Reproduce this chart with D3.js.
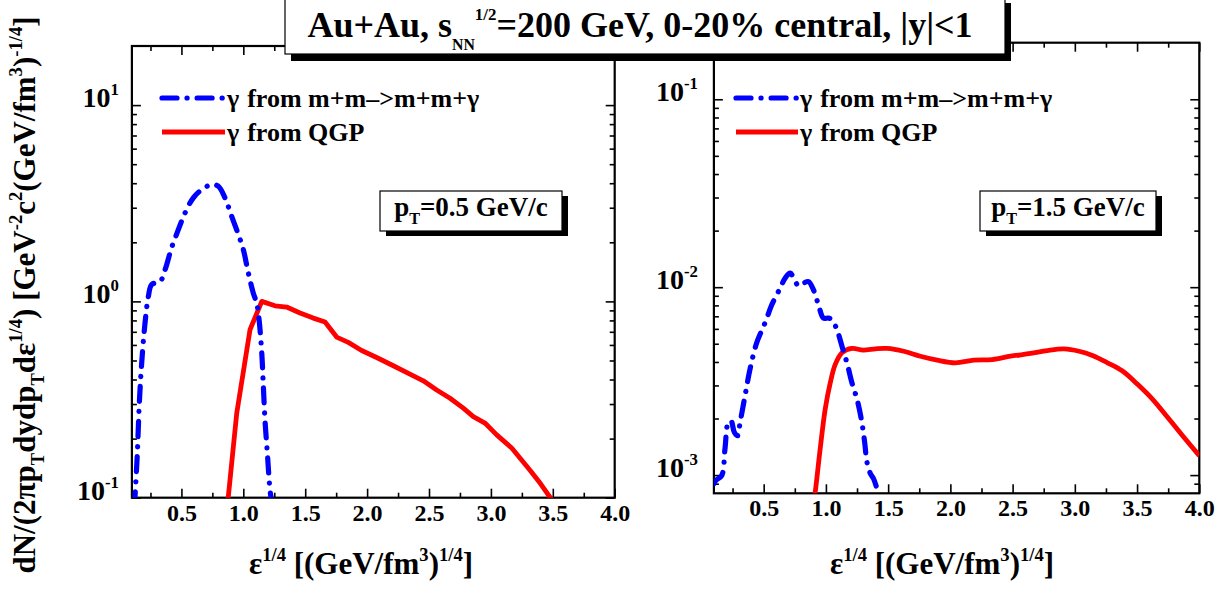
<!DOCTYPE html>
<html>
<head>
<meta charset="utf-8">
<script src="https://cdn.jsdelivr.net/npm/d3@7/dist/d3.min.js"></script>
<style>
  html, body { margin: 0; padding: 0; background: #fff; }
  svg { display: block; }
  text, tspan { font-family: "Liberation Serif", "Times New Roman", serif; font-weight: bold; fill: #000; }
</style>
</head>
<body>
<svg id="chart" width="1232" height="592"></svg>
<script>
// ---- data -------------------------------------------------------------
// x: epsilon^(1/4) in (GeV/fm^3)^(1/4)
const epsMajorTicks = [0.5, 1.0, 1.5, 2.0, 2.5, 3.0, 3.5, 4.0];
const epsMinorTicks = [0.25, 0.75, 1.25, 1.75, 2.25, 2.75, 3.25, 3.75];
const leftYTicks = [0.1, 1, 10];
const rightYTicks = [0.001, 0.01, 0.1];
const leftYExponents = ["-1", "0", "1"];
const rightYExponents = ["-3", "-2", "-1"];

// pT = 0.5 GeV/c, hadronic gas (m+m -> m+m+gamma)
const mesonEpsLow = [0.12, 0.125, 0.144, 0.16, 0.179, 0.206, 0.233, 0.26, 0.327, 0.368, 0.42, 0.475, 0.529, 0.596, 0.664, 0.745, 0.798, 0.852, 0.906, 0.96, 1.0, 1.04, 1.081, 1.108, 1.127, 1.149, 1.162, 1.175, 1.194, 1.216, 1.23];
const mesonYieldLow = [0.09, 0.101, 0.169, 0.303, 0.485, 0.776, 1.06, 1.22, 1.26, 1.45, 1.87, 2.32, 2.82, 3.37, 3.71, 3.94, 3.86, 3.37, 2.71, 2.19, 1.84, 1.40, 1.10, 0.98, 0.81, 0.545, 0.368, 0.249, 0.169, 0.109, 0.095];
// pT = 0.5 GeV/c, QGP
const qgpEpsLow = [0.86, 0.878, 0.947, 1.054, 1.149, 1.256, 1.35, 1.458, 1.565, 1.66, 1.754, 1.848, 1.956, 2.077, 2.212, 2.346, 2.454, 2.562, 2.67, 2.777, 2.858, 2.952, 3.047, 3.168, 3.316, 3.40, 3.48, 3.52];
const qgpYieldLow = [0.085, 0.1, 0.27, 0.717, 1.0, 0.95, 0.936, 0.873, 0.822, 0.785, 0.658, 0.618, 0.562, 0.518, 0.47, 0.426, 0.394, 0.354, 0.321, 0.286, 0.259, 0.24, 0.209, 0.179, 0.138, 0.118, 0.1, 0.094];

// pT = 1.5 GeV/c, hadronic gas
const mesonEpsHigh = [0.10, 0.114, 0.163, 0.189, 0.216, 0.238, 0.264, 0.291, 0.31, 0.35, 0.39, 0.444, 0.511, 0.565, 0.632, 0.672, 0.713, 0.747, 0.78, 0.82, 0.86, 0.90, 0.94, 0.98, 1.02, 1.048, 1.089, 1.129, 1.169, 1.209, 1.25, 1.284, 1.311, 1.33, 1.357, 1.383, 1.41, 1.43];
const mesonYieldHigh = [9.0e-4, 9.35e-4, 9.96e-4, 1.38e-3, 1.91e-3, 1.94e-3, 1.69e-3, 1.62e-3, 1.90e-3, 2.64e-3, 3.66e-3, 5.06e-3, 6.46e-3, 8.06e-3, 9.88e-3, 0.01116, 0.01187, 0.01094, 0.01016, 0.0105, 0.01071, 0.00968, 0.00806, 0.00685, 0.00685, 0.00671, 0.00594, 0.00485, 0.00396, 0.0031, 0.00253, 0.00199, 0.0015, 0.00117, 0.00102, 9.56e-4, 8.48e-4, 7.8e-4];
// pT = 1.5 GeV/c, QGP
const qgpEpsHigh = [0.90, 0.914, 0.954, 0.994, 1.035, 1.075, 1.129, 1.209, 1.30, 1.40, 1.491, 1.625, 1.759, 1.894, 2.041, 2.188, 2.336, 2.484, 2.645, 2.779, 2.913, 3.034, 3.141, 3.262, 3.383, 3.504, 3.625, 3.745, 3.866, 4.0];
const qgpYieldHigh = [7.0e-4, 8.1e-4, 1.38e-3, 2.24e-3, 3.1e-3, 3.88e-3, 4.48e-3, 4.72e-3, 4.62e-3, 4.70e-3, 4.72e-3, 4.56e-3, 4.29e-3, 4.09e-3, 3.96e-3, 4.09e-3, 4.12e-3, 4.29e-3, 4.44e-3, 4.6e-3, 4.69e-3, 4.56e-3, 4.33e-3, 3.96e-3, 3.58e-3, 3.04e-3, 2.53e-3, 2.03e-3, 1.62e-3, 1.27e-3];

const legendLabels = ["γ", "γ"];
const legendTexts = ["from m+m\u2013>m+m+γ", "from QGP"];
const pTLabels = ["0.5 GeV/c", "1.5 GeV/c"];

// ---- layout -----------------------------------------------------------
const FONT = "'Liberation Serif', 'Times New Roman', serif";
const BLUE = "#0000ff", RED = "#ff0000";
const svg = d3.select("#chart").attr("font-family", FONT).attr("font-weight", "bold");

const panels = [
  { id: "low", xr: [131.9, 614.7], yr: [497.7, 46], yDom: [0.1, 20],
    yTicks: leftYTicks, yExp: leftYExponents, labelGap: 13,
    meson: d3.zip(mesonEpsLow, mesonYieldLow), qgp: d3.zip(qgpEpsLow, qgpYieldLow), qgpCurve: d3.curveLinear,
    legendX: [162, 225], legendY: [98, 132], box: [380, 191, 562, 231], pT: pTLabels[0], xTitleX: 361 },
  { id: "high", xr: [713.9, 1199.3], yr: [493.3, 42.7], yDom: [8e-4, 0.2],
    yTicks: rightYTicks, yExp: rightYExponents, labelGap: 16,
    meson: d3.zip(mesonEpsHigh, mesonYieldHigh), qgp: d3.zip(qgpEpsHigh, qgpYieldHigh), qgpCurve: d3.curveCatmullRom.alpha(0.5),
    legendX: [736, 798], legendY: [98, 132], box: [980, 191, 1156, 231], pT: pTLabels[1], xTitleX: 942 }
];

// builds text with sub/superscript pieces: parts = [[string, kind]] kind: 0 normal, 1 sup, -1 sub
function rich(sel, parts, fs, supScale, supRise, subScale, subDrop) {
  let cur = 0;
  sel.attr("font-family", FONT).attr("font-weight", "bold");
  parts.forEach(([s, kind]) => {
    const target = kind === 1 ? -supRise : kind === -1 ? subDrop : 0;
    const size = kind === 1 ? fs * supScale : kind === -1 ? fs * subScale : fs;
    sel.append("tspan").attr("dy", target - cur).attr("font-size", size).text(s);
    cur = target;
  });
}

const defs = svg.append("defs");

panels.forEach(p => {
  const x = d3.scaleLinear().domain([0.1, 4.0]).range(p.xr);
  const y = d3.scaleLog().domain(p.yDom).range(p.yr);
  const [xa, xb] = p.xr, [yb, ya] = p.yr;

  defs.append("clipPath").attr("id", "clip-" + p.id)
    .append("rect").attr("x", xa).attr("y", ya).attr("width", xb - xa).attr("height", yb - ya);

  const g = svg.append("g");

  // minor log ticks: 2..9 per decade inside domain
  const yMinor = [];
  for (let e = -4; e <= 2; e++) for (let m = 2; m <= 9; m++) {
    const v = m * Math.pow(10, e);
    if (v > p.yDom[0] * 1.001 && v < p.yDom[1] * 0.999) yMinor.push(v);
  }

  const styleAxis = a => {
    a.attr("font-family", FONT).attr("font-weight", "bold").attr("font-size", 24);
    a.select(".domain").remove();
    a.selectAll("line").attr("stroke", "#000").attr("stroke-width", 1.6);
  };

  // bottom ticks + labels
  g.append("g").attr("transform", `translate(0,${yb})`)
    .call(d3.axisBottom(x).tickValues(epsMajorTicks).tickSizeInner(-9).tickSizeOuter(0).tickPadding(6)
      .tickFormat(d3.format(".1f")))
    .call(styleAxis);
  g.append("g").attr("transform", `translate(0,${yb})`)
    .call(d3.axisBottom(x).tickValues(epsMinorTicks).tickSizeInner(-5).tickSizeOuter(0).tickFormat(""))
    .call(styleAxis);
  // top ticks
  g.append("g").attr("transform", `translate(0,${ya})`)
    .call(d3.axisTop(x).tickValues(epsMajorTicks).tickSizeInner(-9).tickSizeOuter(0).tickFormat(""))
    .call(styleAxis);
  g.append("g").attr("transform", `translate(0,${ya})`)
    .call(d3.axisTop(x).tickValues(epsMinorTicks).tickSizeInner(-5).tickSizeOuter(0).tickFormat(""))
    .call(styleAxis);
  // left ticks
  g.append("g").attr("transform", `translate(${xa},0)`)
    .call(d3.axisLeft(y).tickValues(p.yTicks).tickSizeInner(-9).tickSizeOuter(0).tickFormat(""))
    .call(styleAxis);
  g.append("g").attr("transform", `translate(${xa},0)`)
    .call(d3.axisLeft(y).tickValues(yMinor).tickSizeInner(-5).tickSizeOuter(0).tickFormat(""))
    .call(styleAxis);
  // right ticks
  g.append("g").attr("transform", `translate(${xb},0)`)
    .call(d3.axisRight(y).tickValues(p.yTicks).tickSizeInner(-9).tickSizeOuter(0).tickFormat(""))
    .call(styleAxis);
  g.append("g").attr("transform", `translate(${xb},0)`)
    .call(d3.axisRight(y).tickValues(yMinor).tickSizeInner(-5).tickSizeOuter(0).tickFormat(""))
    .call(styleAxis);

  // y tick labels 10^n
  p.yTicks.forEach((v, i) => {
    const t = g.append("text").attr("x", xa - p.labelGap).attr("y", y(v) + 2).attr("text-anchor", "end");
    rich(t, [["10", 0], [p.yExp[i], 1]], 28, 0.6, 12, 0.6, 6);
  });

  // frame
  g.append("rect").attr("x", xa).attr("y", ya).attr("width", xb - xa).attr("height", yb - ya)
    .attr("fill", "none").attr("stroke", "#000").attr("stroke-width", 2.2);

  // curves
  const cg = g.append("g").attr("clip-path", `url(#clip-${p.id})`);
  const lineSmooth = d3.line().x(d => x(d[0])).y(d => y(d[1])).curve(d3.curveCatmullRom.alpha(0.5));
  const lineQ = d3.line().x(d => x(d[0])).y(d => y(d[1])).curve(p.qgpCurve);
  cg.append("path").attr("d", lineQ(p.qgp)).attr("fill", "none").attr("stroke", RED)
    .attr("stroke-width", 4.8).attr("stroke-linejoin", "round");
  cg.append("path").attr("d", lineSmooth(p.meson)).attr("fill", "none").attr("stroke", BLUE)
    .attr("stroke-width", 5.2).attr("stroke-linecap", "round").attr("stroke-dasharray", "15,10,0.1,10");

  // legend
  const styles = [{ c: BLUE, dash: "15,10,0.1,10", cap: "round" }, { c: RED, dash: null, cap: "butt" }];
  styles.forEach((s, i) => {
    const ly = p.legendY[i];
    g.append("line").attr("x1", p.legendX[0]).attr("x2", p.legendX[1]).attr("y1", ly).attr("y2", ly)
      .attr("stroke", s.c).attr("stroke-width", 5.2).attr("stroke-linecap", s.cap)
      .attr("stroke-dasharray", s.dash);
    const t = g.append("text").attr("x", p.legendX[1] + 2).attr("y", ly + 9).attr("font-size", 26);
    t.append("tspan").text(legendLabels[i]);
    t.append("tspan").attr("dx", 8).text(legendTexts[i]);
  });

  // pT box with drop shadow
  const [bx0, by0, bx1, by1] = p.box;
  g.append("rect").attr("x", bx0 + 6).attr("y", by0 + 5).attr("width", bx1 - bx0).attr("height", by1 - by0).attr("fill", "#000");
  g.append("rect").attr("x", bx0).attr("y", by0).attr("width", bx1 - bx0).attr("height", by1 - by0)
    .attr("fill", "#fff").attr("stroke", "#000").attr("stroke-width", 1.2);
  const bt = g.append("text").attr("x", (bx0 + bx1) / 2).attr("y", by0 + 25).attr("text-anchor", "middle");
  rich(bt, [["p", 0], ["T", -1], ["=" + p.pT, 0]], 27, 0.6, 10, 0.6, 8);

  // x axis title
  const xt = svg.append("text").attr("x", p.xTitleX).attr("y", 574).attr("text-anchor", "middle");
  rich(xt, [["ε", 0], ["1/4", 1], [" [(GeV/fm", 0], ["3", 1], [")", 0], ["1/4", 1], ["]", 0]], 31, 0.6, 13, 0.6, 8);
});

// y axis title
const yt = svg.append("text").attr("transform", "translate(35,295) rotate(-90)").attr("text-anchor", "middle");
rich(yt, [["dN/(2πp", 0], ["T", -1], ["dydp", 0], ["T", -1], ["dε", 0], ["1/4", 1], [") [GeV", 0], ["-2", 1], ["c", 0], ["2", 1],
  ["(GeV/fm", 0], ["3", 1], [")", 0], ["-1/4", 1], ["]", 0]], 31, 0.6, 13, 0.6, 9);

// title box with drop shadow
const TB = [285, -4, 1005, 54];
svg.append("rect").attr("x", TB[0] + 6).attr("y", TB[1] + 7).attr("width", TB[2] - TB[0]).attr("height", TB[3] - TB[1]).attr("fill", "#000");
svg.append("rect").attr("x", TB[0]).attr("y", TB[1]).attr("width", TB[2] - TB[0]).attr("height", TB[3] - TB[1])
  .attr("fill", "#fff").attr("stroke", "#000").attr("stroke-width", 1.2);
const tt = svg.append("text").attr("x", 640).attr("y", 37).attr("text-anchor", "middle");
rich(tt, [["Au+Au, s", 0], ["NN", -1], ["1/2", 1], ["=200 GeV, 0-20% central, |y|<1", 0]], 36, 0.47, 17, 0.44, 13);
</script>
</body>
</html>
